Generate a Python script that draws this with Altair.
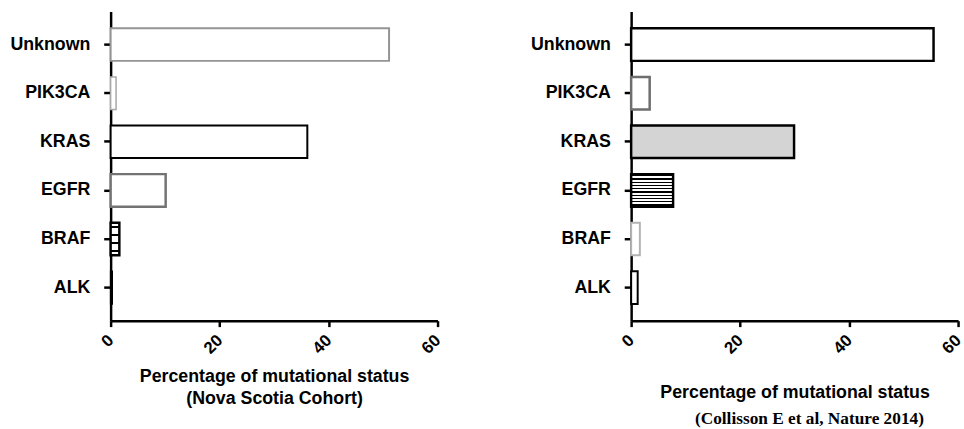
import altair as alt
import pandas as pd

# Mutation categories (top to bottom) and percentage of tumours in each
genes = ["Unknown", "PIK3CA", "KRAS", "EGFR", "BRAF", "ALK"]
nova_scotia = [51.1, 1.0, 36.1, 10.1, 1.6, 0.3]
collisson = [55.5, 3.4, 29.9, 7.7, 1.6, 1.2]
x_ticks = [0, 20, 40, 60]

SANS = "Liberation Sans"
SERIF = "Liberation Serif"


def stripes(n, line_frac):
    """Hard-stop vertical gradient that draws n horizontal black lines on white."""
    stops = []
    gap = (1 - line_frac) / n
    for i in range(n):
        a = i / n + gap * 0.5
        b = a + line_frac / n
        stops += [
            alt.GradientStop(offset=a, color="white"),
            alt.GradientStop(offset=a, color="black"),
            alt.GradientStop(offset=b, color="black"),
            alt.GradientStop(offset=b, color="white"),
        ]
    stops = [alt.GradientStop(offset=0, color="white")] + stops
    stops.append(alt.GradientStop(offset=1, color="white"))
    return alt.LinearGradient(gradient="linear", stops=stops, x1=0, x2=0, y1=0, y2=1)


left_styles = {
    "Unknown": dict(fill="white", stroke="#949494", strokeWidth=2),
    "PIK3CA": dict(fill="white", stroke="#a8a8a8", strokeWidth=1.5),
    "KRAS": dict(fill="white", stroke="black", strokeWidth=2),
    "EGFR": dict(fill="white", stroke="#737373", strokeWidth=2.5),
    "BRAF": dict(fill=stripes(4, 0.3), stroke="black", strokeWidth=2.5),
    "ALK": dict(fill="black", stroke="black", strokeWidth=1.5),
}
right_styles = {
    "Unknown": dict(fill="white", stroke="black", strokeWidth=2.5),
    "PIK3CA": dict(fill="white", stroke="#6e6e6e", strokeWidth=2.5),
    "KRAS": dict(fill="#d4d4d4", stroke="black", strokeWidth=2.5),
    "EGFR": dict(fill=stripes(10, 0.4), stroke="black", strokeWidth=2.5),
    "BRAF": dict(fill="white", stroke="#b3b3b3", strokeWidth=2),
    "ALK": dict(fill="white", stroke="black", strokeWidth=2),
}


def panel(values, styles, axis_title, title_y):
    df = pd.DataFrame({"gene": genes, "pct": values})
    x = alt.X(
        "pct:Q",
        scale=alt.Scale(domain=[0, 60], nice=False, zero=True),
        axis=alt.Axis(
            values=x_ticks,
            title=axis_title,
            titleY=title_y,
            titleBaseline="alphabetic",
            titleFont=SANS,
            titleFontSize=18,
            titleFontWeight="bold",
            titleLineHeight=22,
            labelAngle=315,
            labelAlign="right",
            labelBaseline="middle",
            labelFontSize=17,
            labelPadding=11,
        ),
    )
    y = alt.Y(
        "gene:N",
        sort=genes,
        scale=alt.Scale(domain=genes, paddingInner=0.33, paddingOuter=0.345),
        axis=alt.Axis(title=None, labelFontSize=18, labelPadding=14, tickSize=7),
    )
    layers = []
    for g in genes:
        layers.append(
            alt.Chart(df)
            .transform_filter(alt.datum.gene == g)
            .mark_bar(**styles[g])
            .encode(x=x, y=y)
        )
    return alt.layer(*layers).properties(width=331, height=313)


left = panel(
    nova_scotia,
    left_styles,
    ["Percentage of mutational status", "(Nova Scotia Cohort)"],
    62,
)
right = panel(
    collisson,
    right_styles,
    "Percentage of mutational status",
    78,
).properties(
    title=alt.TitleParams(
        text="(Collisson E et al, Nature 2014)",
        orient="bottom",
        anchor="middle",
        frame="group",
        font=SERIF,
        fontSize=17.5,
        fontWeight="bold",
        color="black",
        dx=15,
        offset=9,
    )
)

chart = (
    alt.hconcat(left, right, spacing=88)
    .properties(padding={"left": 10, "top": 9, "right": 0, "bottom": 0}, background="white")
    .configure_view(stroke=None)
    .configure_axis(
        grid=False,
        domainColor="black",
        domainWidth=2.5,
        tickColor="black",
        tickWidth=2.5,
        tickSize=6,
        labelColor="black",
        labelFont=SANS,
        labelFontWeight="bold",
        labelLimit=300,
        titleColor="black",
    )
)

chart.save("out.html", embed_options={"renderer": "svg", "actions": False})
